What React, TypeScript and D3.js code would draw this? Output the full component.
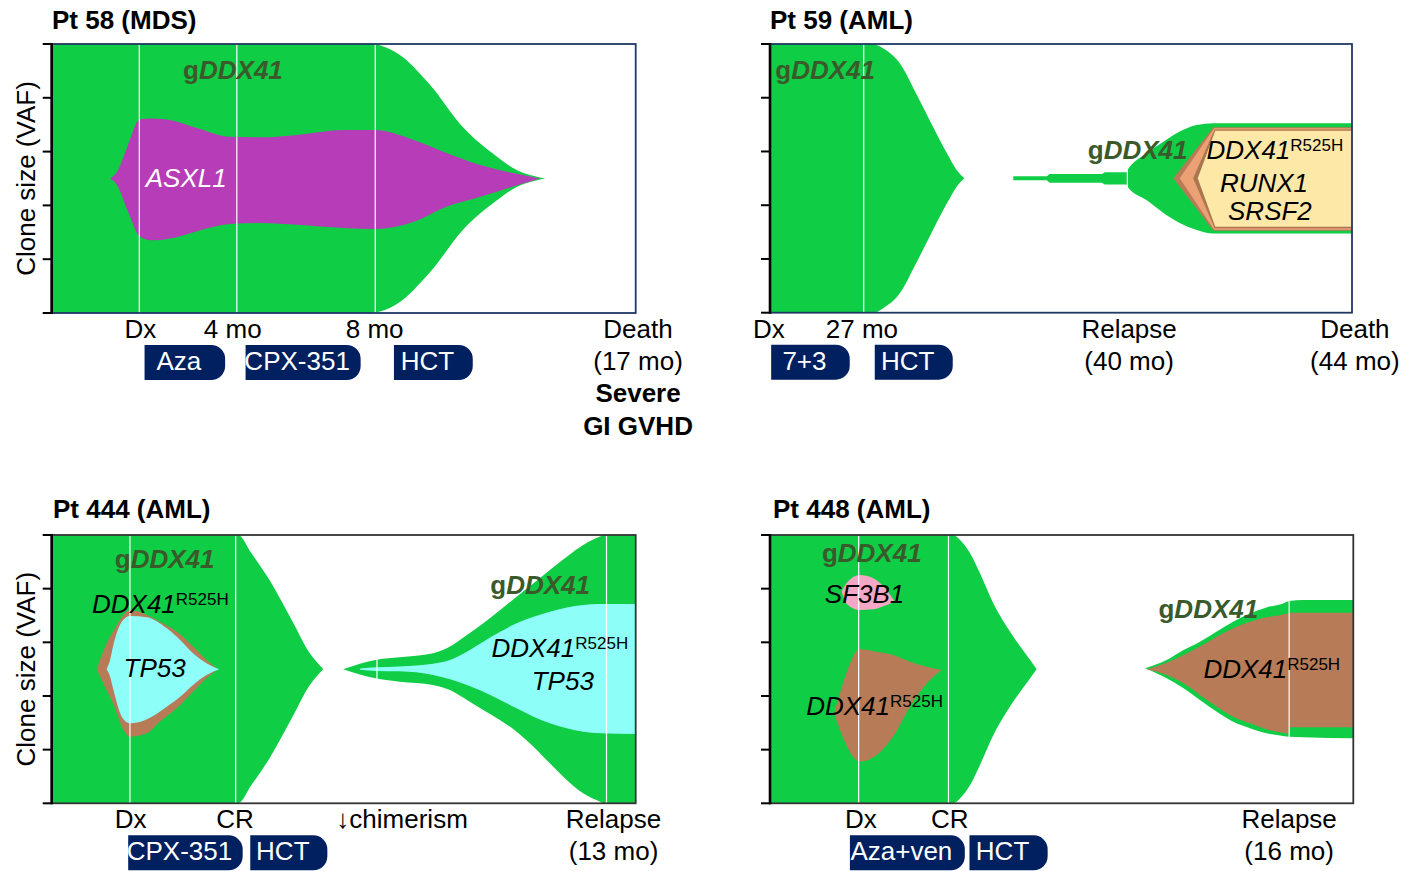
import React from 'react';
import * as d3 from 'd3';

// Each clone row: [time position (0-100 % of panel width), upper VAF edge, lower VAF edge] on a 0-100 clone-size scale
type Row = [number, number, number];

// ---------- Pt 58 (MDS) ----------
const p58Germline: Row[] = [
  [0, 100, 0], [54.5, 100, 0], [59.1, 96.7, 3.3], [64.8, 84.8, 15.2], [70.4, 69.1, 30.9],
  [76.3, 58, 42], [79, 53.9, 46.1], [84.5, 50, 50],
];
const p58ASXL1: Row[] = [
  [10.0, 50, 50], [11.2, 52.5, 47.5], [13, 62, 38], [15.1, 72, 28.4], [17, 72.3, 27], [21, 71.4, 28],
  [25, 68.7, 30.5], [30.5, 65.5, 33.1], [36, 65.3, 33.5], [42, 66.2, 32.8], [50, 68, 31.6],
  [55.4, 68, 31.2], [62, 64.3, 33.9], [67.6, 59.5, 39.5], [73.4, 55, 43.2], [79, 52, 47], [83.6, 50, 50],
];
const p58Timepoints = [15.0, 31.7, 55.4];
const p58AxisLabels = [
  { t: 15.2, lines: ['Dx'] },
  { t: 31.0, lines: ['4 mo'] },
  { t: 55.3, lines: ['8 mo'] },
  { t: 100.4, lines: ['Death', '(17 mo)', '*Severe', '*GI GVHD'] },
];
const p58Therapies = [
  { name: 'Aza', start: 15.9, end: 29.7 },
  { name: 'CPX-351', start: 33.2, end: 52.9 },
  { name: 'HCT', start: 58.6, end: 72.1 },
];
const p58CloneLabels = [
  { kind: 'germ', text: 'DDX41', t: 22.5, v: 86.9 },
  { kind: 'white', text: 'ASXL1', t: 16.1, v: 47.0 },
];

// ---------- Pt 59 (AML) ----------
const p59Germline1: Row[] = [
  [0, 100, 0], [17.7, 100, 0], [19.4, 98.4, 1.6], [22.3, 92.8, 7.2], [25.1, 81.6, 18.4],
  [28.0, 69.2, 30.8], [30.4, 59.3, 40.7], [32.1, 53, 47], [33.4, 50, 50],
];
const p59Germline2: Row[] = [
  [41.8, 50.75, 49.25], [47.5, 50.75, 49.25], [48.1, 51.6, 48.4], [57.0, 51.6, 48.4], [57.6, 52.3, 47.7],
  [61.2, 52.3, 47.7], [61.4, 53.0, 47.0], [64.7, 59.3, 41.9], [67.6, 63.6, 37.1], [70.4, 67.4, 33.4],
  [73.3, 69.9, 30.8], [76.2, 70.5, 29.5], [100, 70.5, 29.5],
];
const p59R525H: Row[] = [[69.3, 50, 50], [76.2, 69.0, 30.5], [100, 69.0, 30.5]];
const p59RUNX1: Row[] = [[70.4, 50, 50], [76.3, 68.6, 30.9], [100, 68.6, 30.9]];
const p59SRSF2a: Row[] = [[72.7, 50, 50], [76.4, 68.2, 31.4], [100, 68.2, 31.4]];
const p59SRSF2b: Row[] = [[73.5, 50, 50], [76.5, 67.7, 32.0], [100, 67.7, 32.0]];
const p59Timepoints = [16.1, 61.4];
const p59AxisLabels = [
  { t: -0.2, lines: ['Dx'] },
  { t: 15.8, lines: ['27 mo'] },
  { t: 61.7, lines: ['Relapse', '(40 mo)'] },
  { t: 100.5, lines: ['Death', '(44 mo)'] },
];
const p59Therapies = [
  { name: '7+3', start: 0.2, end: 13.7 },
  { name: 'HCT', start: 18.0, end: 31.4 },
];
const p59CloneLabels = [
  { kind: 'germ', text: 'DDX41', t: 0.9, v: 86.9 },
  { kind: 'germ', text: 'DDX41', t: 54.6, v: 57.1 },
  { kind: 'r525h', text: 'DDX41', t: 75.0, v: 57.1 },
  { kind: 'mut', text: 'RUNX1', t: 77.3, v: 45.0 },
  { kind: 'mut', text: 'SRSF2', t: 78.7, v: 34.5 },
];

// ---------- Pt 444 (AML) ----------
const p444Germline1: Row[] = [
  [0, 100, 0], [31.9, 100, 0], [34.2, 93.2, 6.8], [37.3, 83.2, 16.8], [41.1, 68.3, 31.7],
  [44.2, 55.9, 44.1], [46.5, 50, 50],
];
const p444Germline2: Row[] = [
  [49.9, 50, 50], [55.65, 53.5, 46.5], [59.6, 54.4, 45.3], [65.3, 55.9, 44.1], [68.2, 58.4, 42.2],
  [71.1, 62.7, 38.5], [73.9, 67.1, 34.8], [76.8, 72.0, 31.0], [79.6, 77.0, 26.7], [82.5, 82.0, 21.1],
  [85.3, 87.0, 14.9], [88.2, 91.9, 8.7], [91.0, 96.3, 3.7], [93.9, 99.4, 0.6], [94.6, 100, 0], [100, 100, 0],
];
const p444R525H1: Row[] = [
  [7.7, 50, 50], [9.4, 59.6, 42.2], [10.5, 64.0, 37.3], [12.3, 70.2, 27.3], [13.4, 72.0, 24.8],
  [16.3, 70.2, 26.1], [18.5, 67.7, 30.4], [21.4, 64.0, 35.4], [24.2, 58.4, 41.6], [26.5, 53.4, 46.6], [28.5, 50, 50],
];
const p444TP53a: Row[] = [
  [9.4, 50, 50], [10.0, 53.4, 47.2], [10.5, 58.4, 42.9], [12.0, 67.7, 32.3], [13.4, 69.8, 29.8],
  [16.3, 69.3, 31.3], [19.7, 65.2, 36.0], [22.0, 60.9, 39.7], [24.2, 55.9, 44.1], [26.5, 52.2, 47.8], [28.7, 50, 50],
];
const p444TP53b: Row[] = [
  [52.8, 50.2, 49.8], [55.65, 50.7, 49.3], [59.6, 51.0, 49.2], [65.3, 52.0, 47.8], [68.2, 53.4, 46.2],
  [71.1, 56.5, 44.1], [73.9, 60.2, 41.6], [76.8, 63.9, 38.5], [79.6, 67.1, 35.4], [82.5, 69.5, 32.3],
  [85.3, 71.4, 29.8], [88.2, 73.0, 28.0], [91.0, 73.9, 26.7], [93.9, 74.3, 26.1], [100, 74.3, 25.8],
];
const p444Timepoints = [13.4, 31.5, 55.7, 95.0];
const p444AxisLabels = [
  { t: 13.5, lines: ['Dx'] },
  { t: 31.4, lines: ['CR'] },
  { t: 60.0, lines: ['\u2193chimerism'] },
  { t: 96.2, lines: ['Relapse', '(13 mo)'] },
];
const p444Therapies = [
  { name: 'CPX-351', start: 13.1, end: 32.7 },
  { name: 'HCT', start: 34.0, end: 47.2 },
];
const p444CloneLabels = [
  { kind: 'germ', text: 'DDX41', t: 10.8, v: 87.6 },
  { kind: 'r525h', text: 'DDX41', t: 6.9, v: 70.8 },
  { kind: 'mut', text: 'TP53', t: 12.3, v: 47.2 },
  { kind: 'germ', text: 'DDX41', t: 75.1, v: 78.0 },
  { kind: 'r525h', text: 'DDX41', t: 75.3, v: 54.4 },
  { kind: 'mut', text: 'TP53', t: 82.2, v: 42.2 },
];

// ---------- Pt 448 (AML) ----------
const p448Germline1: Row[] = [
  [0, 100, 0], [31.4, 100, 0], [32.6, 98.1, 1.9], [34.3, 93.2, 6.8], [36.0, 85.7, 14.3], [38.3, 74.5, 25.5],
  [40.6, 65.8, 34.2], [42.9, 58.4, 41.6], [44.6, 53.4, 46.6], [45.7, 50, 50],
];
const p448SF3B1: Row[] = [
  [12.3, 78.9, 78.9], [13.1, 82.0, 74.5], [15.4, 85.1, 72.0], [17.7, 83.9, 72.3], [20.0, 79.5, 73.9], [21.4, 75.1, 75.1],
];
const p448R525H1: Row[] = [
  [11.0, 33.5, 33.5], [12.7, 46.0, 23.6], [15.4, 57.4, 15.5], [18.3, 56.5, 18.0], [21.1, 55.3, 24.8],
  [24.0, 52.8, 36.0], [26.9, 50.9, 44.7], [29.4, 49.7, 49.7],
];
const p448Germline2: Row[] = [
  [64.3, 50.3, 50.3], [68.0, 53.4, 46.6], [70.9, 57.1, 42.9], [73.7, 60.2, 38.5], [76.6, 64.0, 34.1],
  [79.4, 67.7, 30.4], [82.3, 70.8, 28.0], [85.1, 73.0, 26.1], [88.0, 74.5, 25.1], [89.0, 75.4, 24.8],
  [91.4, 75.8, 24.6], [100, 75.8, 24.2],
];
const p448R525H2: Row[] = [
  [64.6, 50, 50], [68.0, 52.4, 47.8], [70.9, 55.3, 44.7], [73.7, 58.4, 40.4], [76.6, 62.1, 36.0],
  [79.4, 65.2, 32.3], [82.3, 67.7, 29.8], [85.1, 69.3, 27.6], [88.0, 70.4, 26.3], [88.9, 70.8, 26.0],
  [89.1, 71.0, 28.3], [100, 71.0, 28.3],
];
const p448Timepoints = [15.2, 30.6, 89.0];
const p448AxisLabels = [
  { t: 15.6, lines: ['Dx'] },
  { t: 30.8, lines: ['CR'] },
  { t: 89.0, lines: ['Relapse', '(16 mo)'] },
];
const p448Therapies = [
  { name: 'Aza+ven', start: 13.7, end: 33.4 },
  { name: 'HCT', start: 34.2, end: 47.6 },
];
const p448CloneLabels = [
  { kind: 'germ', text: 'DDX41', t: 8.9, v: 90.0 },
  { kind: 'mut', text: 'SF3B1', t: 9.4, v: 74.5 },
  { kind: 'r525h', text: 'DDX41', t: 6.2, v: 32.9 },
  { kind: 'germ', text: 'DDX41', t: 66.6, v: 69.0 },
  { kind: 'r525h', text: 'DDX41', t: 74.3, v: 46.6 },
];

// ---------- styling ----------
const FONT = "'Liberation Sans', Arial, Helvetica, sans-serif";
const C = {
  germ: '#10cd46',
  asxl1: '#b73db8',
  r525h: '#b77b57',
  orange: '#eba174',
  brown2: '#a9764f',
  yellow: '#fde8a8',
  tp53: '#8dfff8',
  sf3b1: '#f6a7c6',
  germText: '#3a5a2b',
  navy: '#002060',
};

type Layer = { data: Row[]; color: string; linear?: boolean };
type Geom = { left: number; right: number; top: number; bottom: number };

function FishPanel(props: {
  id: string; geom: Geom; title: string; titleX: number; titleY: number; layers: Layer[];
  timepoints: number[]; axisLabels: { t: number; lines: string[] }[];
  therapies: { name: string; start: number; end: number }[];
  cloneLabels: { kind: string; text: string; t: number; v: number }[];
  showY: boolean; border: string;
}) {
  const { geom: g } = props;
  const x = d3.scaleLinear().domain([0, 100]).range([g.left, g.right]);
  const y = d3.scaleLinear().domain([0, 100]).range([g.bottom, g.top]);
  const mkArea = (linear?: boolean) =>
    d3.area<Row>()
      .x((d) => x(d[0]))
      .y0((d) => y(d[2]))
      .y1((d) => y(d[1]))
      .curve(linear ? d3.curveLinear : d3.curveMonotoneX);
  const ticks = y.ticks(5);
  const rowOffsets = [25, 57, 89, 122];
  const pillTop = g.bottom + 32;
  const pillH = 35;
  const pillPath = (x0: number, x1: number) => {
    const r = 14;
    const p = d3.path();
    p.moveTo(x0, pillTop);
    p.lineTo(x1 - r, pillTop);
    p.arcTo(x1, pillTop, x1, pillTop + r, r);
    p.lineTo(x1, pillTop + pillH - r);
    p.arcTo(x1, pillTop + pillH, x1 - r, pillTop + pillH, r);
    p.lineTo(x0, pillTop + pillH);
    p.closePath();
    return p.toString();
  };
  return (
    <g>
      <defs>
        <clipPath id={`clip-${props.id}`}>
          <rect x={g.left} y={g.top} width={g.right - g.left} height={g.bottom - g.top} />
        </clipPath>
      </defs>
      <text x={props.titleX} y={props.titleY} fontFamily={FONT} fontWeight="bold" fontSize={26} fill="#000">
        {props.title}
      </text>
      {props.showY && (
        <text
          transform={`translate(35,${(g.top + g.bottom) / 2}) rotate(-90)`}
          textAnchor="middle" fontFamily={FONT} fontSize={26} fill="#000"
        >
          Clone size (VAF)
        </text>
      )}
      <g clipPath={`url(#clip-${props.id})`}>
        {props.layers.map((l, i) => (
          <path key={i} d={mkArea(l.linear)(l.data) || ''} fill={l.color} />
        ))}
        {props.timepoints.map((t, i) => (
          <line key={i} x1={x(t)} x2={x(t)} y1={g.top} y2={g.bottom} stroke="#fff" strokeWidth={1.2} />
        ))}
      </g>
      <rect x={g.left} y={g.top} width={g.right - g.left} height={g.bottom - g.top}
        fill="none" stroke={props.border} strokeWidth={1.8} />
      <line x1={g.left} x2={g.left} y1={g.top - 1} y2={g.bottom + 1} stroke="#000" strokeWidth={2.6} />
      {ticks.map((tk) => (
        <line key={tk} x1={g.left - 9} x2={g.left} y1={y(tk)} y2={y(tk)} stroke="#000" strokeWidth={2} />
      ))}
      {props.cloneLabels.map((cl, i) => {
        const common = { x: x(cl.t), y: y(cl.v), fontFamily: FONT, fontSize: 26 } as any;
        if (cl.kind === 'germ')
          return (
            <text key={i} {...common} fontWeight="bold" fill={C.germText}>
              g<tspan fontStyle="italic">{cl.text}</tspan>
            </text>
          );
        if (cl.kind === 'r525h')
          return (
            <text key={i} {...common} fontStyle="italic" fill="#000">
              {cl.text}
              <tspan fontStyle="normal" fontSize={17} dy={-8}>R525H</tspan>
            </text>
          );
        return (
          <text key={i} {...common} fontStyle="italic" fill={cl.kind === 'white' ? '#fff' : '#000'}>
            {cl.text}
          </text>
        );
      })}
      {props.axisLabels.map((al, i) =>
        al.lines.map((ln, j) => {
          const bold = ln.startsWith('*');
          return (
            <text key={`${i}-${j}`} x={x(al.t)} y={g.bottom + rowOffsets[j]} textAnchor="middle"
              fontFamily={FONT} fontSize={26} fontWeight={bold ? 'bold' : 'normal'} fill="#000">
              {bold ? ln.slice(1) : ln}
            </text>
          );
        })
      )}
      {props.therapies.map((th, i) => {
        const x0 = x(th.start);
        const x1 = x(th.end);
        return (
          <g key={i}>
            <path d={pillPath(x0, x1)} fill={C.navy} />
            <text x={(x0 + x1) / 2 - 6} y={g.bottom + 57} textAnchor="middle" fontFamily={FONT}
              fontSize={26} fill="#fff">
              {th.name}
            </text>
          </g>
        );
      })}
    </g>
  );
}

export default function App() {
  return (
    <svg width={1416} height={871} style={{ position: 'absolute', left: 0, top: 0, background: '#fff' }}>
      <rect x={0} y={0} width={1416} height={871} fill="#fff" />
      <FishPanel
        id="p58" geom={{ left: 51.7, right: 635.7, top: 44, bottom: 313 }}
        title="Pt 58 (MDS)" titleX={52} titleY={29}
        layers={[{ data: p58Germline, color: C.germ }, { data: p58ASXL1, color: C.asxl1 }]}
        timepoints={p58Timepoints} axisLabels={p58AxisLabels} therapies={p58Therapies}
        cloneLabels={p58CloneLabels} showY border="#1f3864"
      />
      <FishPanel
        id="p59" geom={{ left: 770, right: 1352, top: 44, bottom: 312.7 }}
        title="Pt 59 (AML)" titleX={770} titleY={29}
        layers={[
          { data: p59Germline1, color: C.germ },
          { data: p59Germline2, color: C.germ },
          { data: p59R525H, color: C.r525h, linear: true },
          { data: p59RUNX1, color: C.orange, linear: true },
          { data: p59SRSF2a, color: C.brown2, linear: true },
          { data: p59SRSF2b, color: C.yellow, linear: true },
        ]}
        timepoints={p59Timepoints} axisLabels={p59AxisLabels} therapies={p59Therapies}
        cloneLabels={p59CloneLabels} showY={false} border="#1f3864"
      />
      <FishPanel
        id="p444" geom={{ left: 51.7, right: 635.7, top: 535, bottom: 803.3 }}
        title="Pt 444 (AML)" titleX={53} titleY={518}
        layers={[
          { data: p444Germline1, color: C.germ },
          { data: p444R525H1, color: C.r525h },
          { data: p444TP53a, color: C.tp53 },
          { data: p444Germline2, color: C.germ },
          { data: p444TP53b, color: C.tp53 },
        ]}
        timepoints={p444Timepoints} axisLabels={p444AxisLabels} therapies={p444Therapies}
        cloneLabels={p444CloneLabels} showY border="#333"
      />
      <FishPanel
        id="p448" geom={{ left: 770, right: 1353.3, top: 535, bottom: 803.3 }}
        title="Pt 448 (AML)" titleX={773} titleY={518}
        layers={[
          { data: p448Germline1, color: C.germ },
          { data: p448SF3B1, color: C.sf3b1 },
          { data: p448R525H1, color: C.r525h },
          { data: p448Germline2, color: C.germ },
          { data: p448R525H2, color: C.r525h },
        ]}
        timepoints={p448Timepoints} axisLabels={p448AxisLabels} therapies={p448Therapies}
        cloneLabels={p448CloneLabels} showY={false} border="#333"
      />
    </svg>
  );
}
